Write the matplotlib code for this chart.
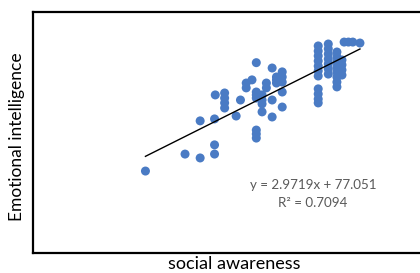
import numpy as np
import matplotlib
matplotlib.use("Agg")
import matplotlib.pyplot as plt

plt.rcParams['font.family'] = ['Lato', 'DejaVu Sans']

# social awareness (x) and emotional intelligence (y)
x_vals = [10.1, 12.85, 13.9, 14.9, 14.9, 13.9, 14.9, 14.95, 15.6, 15.6, 15.6, 15.6,
          16.4, 16.7, 17.1, 17.1, 17.5, 17.8, 17.8, 17.8, 17.8, 17.8, 17.8, 17.8,
          18.2, 18.2, 18.2, 18.2, 18.5, 18.5, 18.9, 18.9, 18.9, 19.2, 19.2, 19.2,
          19.6, 19.6, 19.6, 19.6, 19.6,
          22.1, 22.1, 22.1, 22.1, 22.1, 22.1, 22.1, 22.1, 22.1, 22.1, 22.1,
          22.8, 22.8, 22.8, 22.8, 22.8, 22.8, 22.8,
          23.4, 23.4, 23.4, 23.4, 23.4, 23.4, 23.4, 23.4,
          23.75, 23.75, 23.75, 23.75,
          23.9, 24.2, 24.5, 25.0]
y_vals = [101.0, 108.0, 106.4, 108.0, 111.8, 121.7, 122.5, 132.4, 133.2, 131.1, 129.1, 127.0,
          123.7, 130.3, 137.3, 135.3, 138.6, 145.7, 133.6, 132.4, 131.1, 117.9, 116.3, 114.6,
          132.4, 130.3, 128.7, 125.4, 137.3, 135.3, 143.5, 130.3, 123.3, 139.8, 138.6, 137.3,
          141.9, 139.8, 137.7, 133.6, 127.4,
          152.6, 150.5, 148.5, 146.4, 144.3, 142.3, 140.2, 134.9, 132.8, 130.7, 129.1,
          153.4, 151.4, 149.3, 147.2, 145.2, 143.1, 141.0,
          150.1, 148.1, 146.0, 143.9, 141.9, 139.8, 137.7, 135.7,
          146.8, 144.8, 142.7, 140.6,
          154.2, 154.2, 154.2, 153.8]

slope = 2.9719
intercept = 77.051
r_squared = 0.7094

x = np.array(x_vals)
y = np.array(y_vals)

fig = plt.figure(figsize=(4.2, 2.73), dpi=100)
ax = fig.add_axes([33 / 420, 20 / 273, 1 - 33 / 420, 241 / 273])

ax.scatter(x, y, s=42, color='#4a7bc4', edgecolors='none', zorder=2)

# trendline over the data range
xl = np.array([x.min(), x.max()])
ax.plot(xl, slope * xl + intercept, color='black', lw=1.0, zorder=3)

ax.set_xlim(2.29, 29.17)
ax.set_ylim(67.2, 166.6)
ax.set_xticks([])
ax.set_yticks([])
for side in ['left', 'top', 'bottom']:
    ax.spines[side].set_linewidth(1.6)
    ax.spines[side].set_color('black')
ax.spines['right'].set_visible(False)

fig.text(313 / 420, 1 - 185 / 273, f'y = {slope}x + {intercept}',
         ha='center', va='center', fontsize=9.6, color='#595959')
fig.text(313 / 420, 1 - 203 / 273, f'R² = {r_squared}',
         ha='center', va='center', fontsize=9.6, color='#595959')

fig.text(234 / 420, 1 - 264 / 273, 'social awareness',
         ha='center', va='center', fontsize=13, color='black')
fig.text(17 / 420, 1 - 137 / 273, 'Emotional intelligence', rotation=90,
         ha='center', va='center', fontsize=12.5, color='black')

fig.savefig('out.png', dpi=100)
